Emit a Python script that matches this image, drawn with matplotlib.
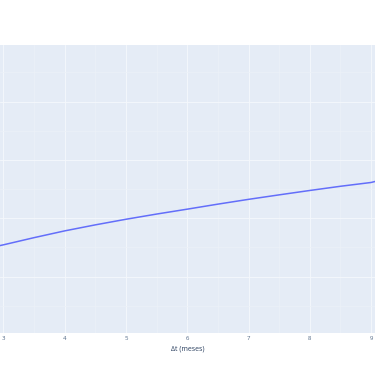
import matplotlib
matplotlib.use("Agg")
import matplotlib.pyplot as plt
from matplotlib.ticker import MultipleLocator

# values (y axis has no visible labels, arbitrary units)
dt_meses = [2.943, 3, 3.5, 4, 4.5, 5, 5.5, 6, 6.5, 7, 7.5, 8, 8.5, 9, 9.065]
valores = [0.532, 0.545, 0.668, 0.784, 0.887, 0.983, 1.072, 1.156, 1.242,
           1.324, 1.401, 1.476, 1.548, 1.613, 1.63]
x_ticks = [3, 4, 5, 6, 7, 8, 9]

plt.rcParams['font.family'] = ['Open Sans', 'DejaVu Sans']

fig = plt.figure(figsize=(3.75, 3.66), dpi=100)
ax = fig.add_axes([0, 0.0902, 1, 0.787])
ax.set_facecolor("#E5ECF6")

ax.plot(dt_meses, valores, color="#636EFA", lw=1.1, zorder=3)

ax.set_xlim(2.943, 9.065)
ax.set_ylim(-0.966, 3.97)
ax.set_xticks(x_ticks)
ax.xaxis.set_minor_locator(MultipleLocator(0.5))
ax.yaxis.set_major_locator(MultipleLocator(1))
ax.yaxis.set_minor_locator(MultipleLocator(0.5))
ax.grid(which="major", color="#F5F8FC", lw=0.6)
ax.grid(which="minor", color="#ECF1F8", lw=0.5)
ax.set_axisbelow(True)

for s in ax.spines.values():
    s.set_visible(False)
ax.tick_params(which="both", length=0)
ax.tick_params(axis="x", labelsize=4.3, labelcolor="#506784", pad=2)
ax.set_yticklabels([])
ax.set_xlabel("Δt (meses)", fontsize=5, color="#2a3f5f", labelpad=3.5)

fig.savefig("out.png", dpi=100)
